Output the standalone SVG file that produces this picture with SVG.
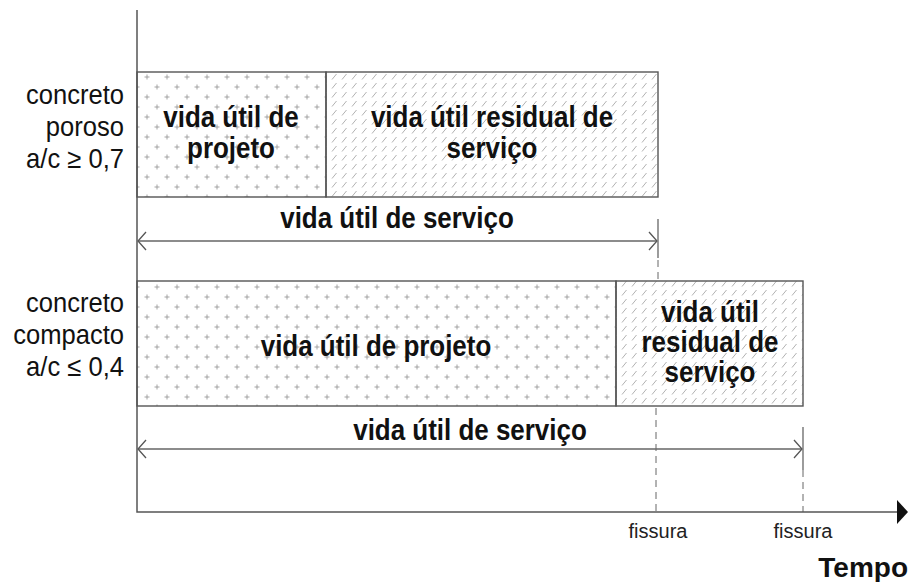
<svg xmlns="http://www.w3.org/2000/svg" width="915" height="582" viewBox="0 0 915 582">
  <defs>
    <!-- staggered "+" texture for the design service-life blocks -->
    <pattern id="crosses" x="137" y="72" width="20" height="20" patternUnits="userSpaceOnUse">
      <g stroke="#9a9a9a" stroke-width="0.9">
        <path d="M7.5 5h5M10 2.5v5"/>
        <path d="M-2.5 15h5M0 12.5v5M17.5 15h5M20 12.5v5"/>
      </g>
    </pattern>
    <!-- short diagonal dashes for the residual service-life blocks -->
    <pattern id="hatch" x="0" y="0" width="10" height="9" patternUnits="userSpaceOnUse">
      <path d="M2 7.5L6.5 2" stroke="#a8a8a8" stroke-width="0.9"/>
    </pattern>
    <marker id="open" viewBox="0 0 10 20" refX="9" refY="10" markerWidth="10" markerHeight="20" markerUnits="userSpaceOnUse" orient="auto-start-reverse">
      <path d="M1 1L9 10L1 19" fill="none" stroke="#555" stroke-width="1.3"/>
    </marker>
  </defs>
  <style>
    text { font-family: "Liberation Sans", Arial, sans-serif; }
    .box { stroke: #555; stroke-width: 1.4; }
    /* the lettering is a little narrower than the regular face */
    .lbl { font-size: 27.5px; fill: #111; text-anchor: end;
           transform-box: fill-box; transform-origin: right; transform: scaleX(0.93); }
    .in { font-size: 29px; font-weight: bold; fill: #111; text-anchor: middle;
          transform-box: fill-box; transform-origin: center; transform: scaleX(0.895); }
    .small { font-size: 20px; fill: #222; text-anchor: middle; }
    .axis { stroke: #555; stroke-width: 1.5; fill: none; }
    .dim { stroke: #666; stroke-width: 1.3; fill: none; }
    .dash { stroke: #666; stroke-width: 1; stroke-dasharray: 7 5; fill: none; }
  </style>

  <rect width="915" height="582" fill="#fff"/>

  <!-- porous concrete row -->
  <g id="porous-label">
    <text class="lbl" x="124" y="104">concreto</text>
    <text class="lbl" x="124" y="136">poroso</text>
    <text class="lbl" x="124" y="168">a/c ≥ 0,7</text>
  </g>
  <g id="porous-design">
    <rect class="box" x="137" y="72" width="189" height="125" fill="url(#crosses)"/>
    <text class="in" x="231" y="127">vida útil de</text>
    <text class="in" x="231" y="158">projeto</text>
  </g>
  <g id="porous-residual">
    <rect class="box" x="326" y="72" width="332" height="125" fill="url(#hatch)"/>
    <text class="in" x="492" y="127">vida útil residual de</text>
    <text class="in" x="492" y="158">serviço</text>
  </g>

  <!-- compact concrete row -->
  <g id="compact-label">
    <text class="lbl" x="124" y="312">concreto</text>
    <text class="lbl" x="124" y="344">compacto</text>
    <text class="lbl" x="124" y="376">a/c ≤ 0,4</text>
  </g>
  <g id="compact-design">
    <rect class="box" x="137" y="281" width="479" height="125" fill="url(#crosses)"/>
    <text class="in" x="376" y="356">vida útil de projeto</text>
  </g>
  <g id="compact-residual">
    <rect class="box" x="616" y="281" width="187" height="125" fill="url(#hatch)"/>
    <text class="in" x="710" y="322">vida útil</text>
    <text class="in" x="710" y="352">residual de</text>
    <text class="in" x="710" y="382">serviço</text>
  </g>

  <!-- dimension lines, crack markers and axes -->
  <g id="connectors">
    <path class="dim" d="M138 241H657" marker-start="url(#open)" marker-end="url(#open)"/>
    <path class="dim" d="M658 219V258"/>
    <path class="dash" d="M658 260V281"/>
    <path class="dim" d="M138 449H802" marker-start="url(#open)" marker-end="url(#open)"/>
    <path class="dim" d="M803 427V470"/>
    <path class="dash" d="M803 470V512"/>
    <path class="dash" d="M656 408V512"/>
    <path class="axis" d="M137 10V512H898"/>
    <path d="M897 500L908 512L897 524Z" fill="#111"/>
  </g>

  <g id="axis-labels">
    <text class="in" x="397" y="228">vida útil de serviço</text>
    <text class="in" x="470" y="440">vida útil de serviço</text>
    <text class="small" x="658" y="538">fissura</text>
    <text class="small" x="803" y="538">fissura</text>
    <text x="908" y="577" font-size="28" font-weight="bold" fill="#111" text-anchor="end">Tempo</text>
  </g>
</svg>
